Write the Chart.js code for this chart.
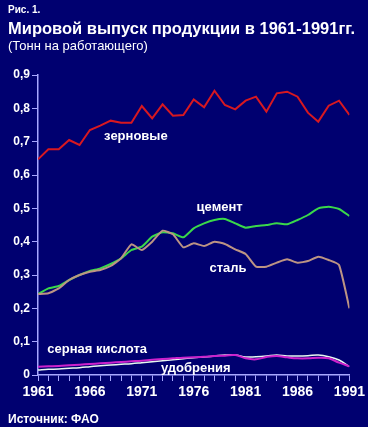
<!DOCTYPE html>
<html><head><meta charset="utf-8">
<script src="https://cdn.jsdelivr.net/npm/chart.js@4/dist/chart.umd.min.js"></script>
<style>
html,body{margin:0;padding:0;background:#000070;}
#wrap{position:relative;width:368px;height:427px;}
</style></head>
<body><div id="wrap"><canvas id="c" width="368" height="427"></canvas></div>
<script>
const years = [1961,1962,1963,1964,1965,1966,1967,1968,1969,1970,1971,1972,1973,1974,1975,1976,1977,1978,1979,1980,1981,1982,1983,1984,1985,1986,1987,1988,1989,1990,1991];
const grain = [0.647,0.677,0.677,0.705,0.690,0.735,0.748,0.763,0.757,0.757,0.807,0.770,0.812,0.778,0.780,0.827,0.803,0.853,0.810,0.797,0.823,0.835,0.790,0.845,0.850,0.835,0.787,0.760,0.808,0.823,0.780];
const cement = [0.243,0.260,0.267,0.285,0.300,0.312,0.320,0.333,0.350,0.375,0.385,0.415,0.428,0.425,0.413,0.440,0.455,0.465,0.468,0.455,0.442,0.447,0.450,0.455,0.452,0.465,0.480,0.500,0.505,0.498,0.477];
const steel = [0.243,0.245,0.260,0.285,0.300,0.310,0.315,0.327,0.350,0.392,0.375,0.400,0.433,0.422,0.383,0.395,0.387,0.400,0.393,0.377,0.363,0.325,0.325,0.337,0.347,0.337,0.342,0.355,0.345,0.330,0.200];
const sulfuric = [0.025,0.026,0.027,0.029,0.031,0.033,0.035,0.037,0.039,0.041,0.043,0.046,0.048,0.050,0.052,0.053,0.055,0.057,0.058,0.060,0.050,0.047,0.054,0.057,0.053,0.050,0.050,0.052,0.050,0.037,0.026];
const fertilizer = [0.015,0.017,0.018,0.020,0.022,0.025,0.028,0.030,0.032,0.034,0.037,0.040,0.043,0.046,0.049,0.052,0.054,0.057,0.060,0.060,0.054,0.055,0.057,0.060,0.057,0.057,0.058,0.060,0.055,0.045,0.025];
const yTicks = [0,0.1,0.2,0.3,0.4,0.5,0.6,0.7,0.8,0.9];
const xLabelYears = [1961,1966,1971,1976,1981,1986,1991];
const labelTexts = ['зерновые','цемент','сталь','серная кислота','удобрения'];
const labelYears = [1970.43,1978.5,1979.3,1966.7,1976.2];
const labelValues = [0.717,0.504,0.321,0.078,0.021];

const AX = '#a8a8ff';
const F = '"Liberation Sans", Arial, sans-serif';

function pts(arr){ return arr.map((v,i)=>({x:years[i],y:v})); }

const textPlugin = {
  id:'texts',
  afterDraw(chart){
    const ctx = chart.ctx;
    ctx.save();
    ctx.fillStyle = '#ffffff';
    ctx.textBaseline = 'alphabetic';
    ctx.textAlign = 'left';
    ctx.font = 'bold 10px ' + F;
    ctx.fillText('Рис. 1.', 8, 13);
    ctx.font = 'bold 16.5px ' + F;
    ctx.fillText('Мировой выпуск продукции в 1961-1991гг.', 8, 34);
    ctx.font = '13px ' + F;
    ctx.fillText('(Тонн на работающего)', 8, 50);
    ctx.font = 'bold 12px ' + F;
    ctx.fillText('Источник: ФАО', 8, 423);
    const xs = chart.scales.x, ys = chart.scales.y;
    ctx.font = 'bold 13px ' + F;
    ctx.textAlign = 'center';
    ctx.textBaseline = 'middle';
    labelTexts.forEach((t,i)=>{
      ctx.fillText(t, xs.getPixelForValue(labelYears[i]), ys.getPixelForValue(labelValues[i]));
    });
    ctx.restore();
  }
};

new Chart(document.getElementById('c'), {
  type:'line',
  data:{ datasets:[
    {data:pts(grain), borderColor:'#d81820', borderWidth:2, tension:0},
    {data:pts(steel), borderColor:'#bc9484', borderWidth:2, tension:0.15},
    {data:pts(cement), borderColor:'#3ad84a', borderWidth:2, tension:0.15},
    {data:pts(sulfuric), borderColor:'#cc22cc', borderWidth:2, tension:0.4},
    {data:pts(fertilizer), borderColor:'#e8f8f0', borderWidth:1.5, tension:0.4}
  ]},
  options:{
    responsive:false, animation:false,
    elements:{point:{radius:0}},
    layout:{padding:{top:75,right:13,left:0,bottom:0}},
    plugins:{legend:{display:false}, tooltip:{enabled:false}},
    scales:{
      x:{type:'linear', min:1961, max:1991,
        afterBuildTicks(s){ s.ticks = years.map(v=>({value:v})); },
        afterFit(s){ s.height = 52; },
        grid:{drawOnChartArea:false, drawTicks:true, tickLength:6, color:AX, tickColor:AX, lineWidth:1},
        border:{color:AX, width:1.5},
        ticks:{autoSkip:false, maxRotation:0, padding:3, color:'#ffffff',
          font:{family:F, weight:'bold', size:14},
          callback:(v)=> xLabelYears.includes(v) ? String(v) : ''}
      },
      y:{min:0, max:0.9,
        afterBuildTicks(s){ s.ticks = yTicks.map(v=>({value:v})); },
        afterFit(s){ s.width = 38; },
        grid:{drawOnChartArea:false, drawTicks:true, tickLength:6, color:AX, tickColor:AX},
        border:{color:AX, width:1.5},
        ticks:{padding:2, color:'#ffffff', font:{family:F, weight:'bold', size:12},
          callback:(v)=> v===0 ? '0' : v.toFixed(1).replace('.',',')}
      }
    }
  },
  plugins:[textPlugin]
});
</script></body></html>
